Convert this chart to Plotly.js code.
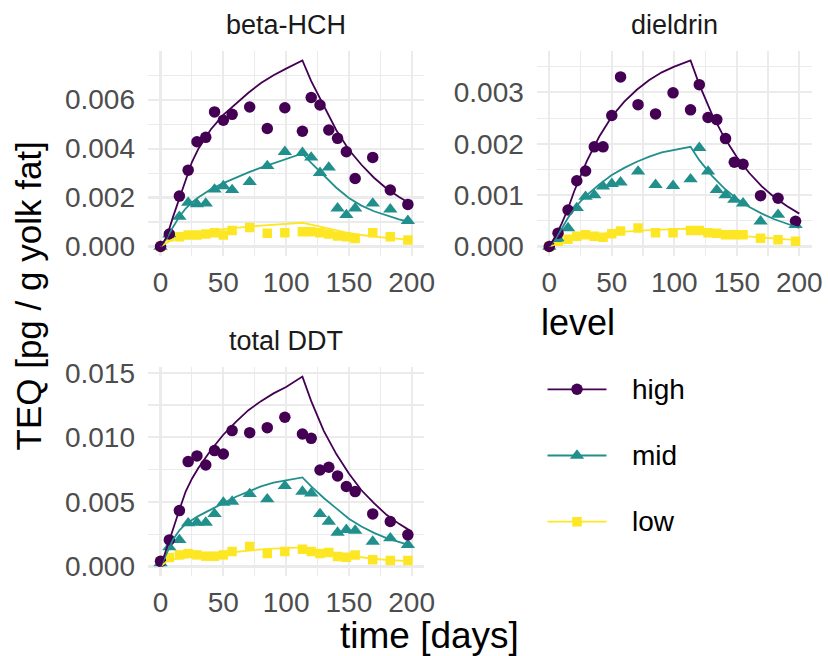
<!DOCTYPE html>
<html>
<head>
<meta charset="utf-8">
<script src="https://cdn.plot.ly/plotly-3.0.1.min.js"></script>
<style>
html,body{margin:0;padding:0;background:#fff;}
#chart{width:828px;height:656px;}
</style>
</head>
<body>
<div id="chart"></div>
<script>
// ---------------- data ----------------
const panelNames = ['beta-HCH', 'dieldrin', 'total DDT'];
const levels = ['high', 'mid', 'low'];

const pointDays = [0, 7, 15, 22, 29, 36, 43, 50, 57, 71, 85, 99, 113, 120, 127, 134, 141, 148, 155, 169, 183, 197];
const lineDays  = [0, 5, 10, 15, 20, 25, 30, 40, 50, 60, 70, 80, 90, 100, 113, 120, 130, 140, 150, 160, 170, 180, 190, 200];

// beta-HCH
const betaHigh = [0, 0.00051, 0.00206, 0.00312, 0.00428, 0.00446, 0.0055, 0.00516, 0.0054, 0.0057, 0.00482, 0.00567, 0.00471, 0.00609, 0.00578, 0.00476, 0.00442, 0.00387, 0.00278, 0.00364, 0.00231, 0.00172];
const betaMid  = [0, 0.0005, 0.00122, 0.00179, 0.00173, 0.00176, 0.00233, 0.00247, 0.00231, 0.00264, 0.00329, 0.00387, 0.00383, 0.00364, 0.00301, 0.00323, 0.00156, 0.00129, 0.00156, 0.00176, 0.00152, 0.00105];
const betaLow  = [0, 0.0004, 0.0004, 0.00047, 0.00047, 0.00051, 0.00056, 0.00047, 0.00065, 0.00078, 0.00054, 0.00056, 0.0006, 0.0006, 0.00056, 0.00051, 0.00043, 0.0004, 0.00033, 0.00056, 0.0004, 0.00027];
const betaHighLine = [0, 0.0004, 0.00122, 0.00197, 0.00276, 0.00345, 0.00398, 0.00478, 0.00538, 0.00585, 0.00628, 0.00668, 0.007, 0.00727, 0.0076, 0.00676, 0.00573, 0.00475, 0.00395, 0.00334, 0.00281, 0.00237, 0.00202, 0.00172];
const betaMidLine  = [0, 0.00035, 0.0008, 0.00122, 0.00155, 0.0018, 0.002, 0.00234, 0.00259, 0.00282, 0.00303, 0.00322, 0.0034, 0.00356, 0.0038, 0.00342, 0.0029, 0.0024, 0.00198, 0.00167, 0.00144, 0.00126, 0.00111, 0.00099];
const betaLowLine  = [0, 0.00015, 0.0003, 0.0004, 0.00047, 0.00053, 0.00058, 0.00066, 0.00072, 0.00077, 0.00081, 0.00085, 0.00089, 0.00093, 0.00097, 0.00089, 0.00077, 0.00065, 0.00055, 0.00047, 0.0004, 0.00035, 0.00031, 0.00027];

// dieldrin
const dielHigh = [0, 0.00026, 0.00071, 0.00128, 0.00147, 0.00194, 0.00194, 0.00255, 0.0033, 0.00276, 0.00258, 0.00299, 0.00266, 0.00315, 0.00251, 0.00247, 0.0021, 0.00164, 0.0016, 0.00099, 0.00094, 0.00049];
const dielMid  = [0, 0.00015, 0.00036, 0.00075, 0.00097, 0.001, 0.00117, 0.00122, 0.00125, 0.00146, 0.0012, 0.00118, 0.00131, 0.00192, 0.00146, 0.0011, 0.001, 0.00091, 0.00084, 0.00049, 0.00062, 0.00042];
const dielLow  = [0, 0.0001, 0.00014, 0.0002, 0.00023, 0.0002, 0.00018, 0.00025, 0.0003, 0.00036, 0.00027, 0.00027, 0.00031, 0.00031, 0.00027, 0.00026, 0.00023, 0.00023, 0.00023, 0.00016, 0.00013, 0.0001];
const dielHighLine = [0, 0.0002, 0.00045, 0.00074, 0.00108, 0.00138, 0.00166, 0.00214, 0.00253, 0.00282, 0.00305, 0.00324, 0.00339, 0.0035, 0.00362, 0.00315, 0.00258, 0.00212, 0.00174, 0.00143, 0.00117, 0.00096, 0.00079, 0.00064];
const dielMidLine  = [0, 0.00015, 0.00035, 0.00056, 0.00073, 0.00088, 0.001, 0.00121, 0.00139, 0.00153, 0.00165, 0.00175, 0.00183, 0.00188, 0.00194, 0.00168, 0.00138, 0.00113, 0.00093, 0.00077, 0.00064, 0.00053, 0.00044, 0.00036];
const dielLowLine  = [0, 0.00004, 0.00008, 0.00012, 0.00015, 0.00018, 0.0002, 0.00024, 0.00027, 0.00029, 0.00031, 0.00032, 0.00033, 0.00034, 0.00035, 0.00031, 0.00027, 0.00024, 0.00021, 0.00019, 0.00017, 0.00015, 0.00014, 0.00013];

// total DDT
const ddtHigh = [0.0004, 0.00206, 0.00433, 0.00812, 0.00856, 0.00786, 0.00897, 0.00871, 0.01052, 0.01036, 0.01075, 0.01155, 0.01026, 0.00992, 0.00747, 0.00768, 0.00701, 0.00619, 0.0058, 0.00407, 0.00348, 0.00245];
const ddtMid  = [0.00026, 0.0015, 0.00206, 0.00335, 0.0034, 0.0034, 0.00407, 0.00495, 0.00503, 0.00562, 0.00521, 0.00624, 0.0058, 0.00567, 0.00407, 0.00348, 0.00263, 0.00284, 0.00278, 0.00193, 0.00219, 0.00168];
const ddtLow  = [0.0004, 0.0007, 0.0009, 0.001, 0.0009, 0.0008, 0.0008, 0.0009, 0.00116, 0.00155, 0.001, 0.00116, 0.00134, 0.00116, 0.001, 0.00108, 0.00077, 0.00072, 0.0009, 0.00052, 0.00046, 0.00046];
const ddtHighLine = [0, 0.0014, 0.0029, 0.0044, 0.0058, 0.0068, 0.0076, 0.009, 0.0102, 0.0112, 0.0121, 0.0128, 0.0134, 0.0139, 0.0147, 0.0128, 0.0105, 0.0087, 0.0072, 0.0059, 0.0049, 0.004, 0.0033, 0.0027];
const ddtMidLine  = [0, 0.0011, 0.0021, 0.0028, 0.0033, 0.0036, 0.0039, 0.0044, 0.0049, 0.0054, 0.0058, 0.0062, 0.0065, 0.0067, 0.0069, 0.0062, 0.0053, 0.0045, 0.0037, 0.0031, 0.0026, 0.0022, 0.0019, 0.0016];
const ddtLowLine  = [0, 0.0004, 0.00055, 0.00063, 0.0007, 0.00076, 0.00082, 0.00093, 0.00103, 0.00112, 0.00124, 0.00132, 0.00138, 0.00142, 0.00148, 0.00135, 0.00115, 0.00097, 0.00083, 0.0007, 0.0006, 0.00052, 0.00045, 0.0004];

const yTickSteps = [0.002, 0.001, 0.005];
const xTicks = [0, 50, 100, 150, 200];

// ---------------- style ----------------
const colors = {high: '#440154', mid: '#21908C', low: '#FDE725'};
const symbols = {high: 'circle', mid: 'triangle-up', low: 'square'};
const msize = {high: 11.5, mid: 12.5, low: 9.5};
const FONT = 'Liberation Sans, Arial, Helvetica, sans-serif';
const W = 828, H = 656;

const points = [
  {high: betaHigh, mid: betaMid, low: betaLow},
  {high: dielHigh, mid: dielMid, low: dielLow},
  {high: ddtHigh, mid: ddtMid, low: ddtLow}
];
const lines = [
  {high: betaHighLine, mid: betaMidLine, low: betaLowLine},
  {high: dielHighLine, mid: dielMidLine, low: dielLowLine},
  {high: ddtHighLine, mid: ddtMidLine, low: ddtLowLine}
];

// panel boxes in pixels [left, right, top, bottom]
const boxes = [
  [148, 424.2, 51.2, 255.8],
  [536.8, 811.8, 51.2, 255.8],
  [148, 424.2, 367.1, 576.0]
];

const traces = [];
const drawOrder = ['low', 'mid', 'high'];
for (let p = 0; p < 3; p++) {
  const sx = p === 0 ? 'x' : 'x' + (p + 1);
  const sy = p === 0 ? 'y' : 'y' + (p + 1);
  drawOrder.forEach(lv => {
    traces.push({
      type: 'scatter', mode: 'markers', x: pointDays, y: points[p][lv],
      xaxis: sx, yaxis: sy, showlegend: false, hoverinfo: 'skip',
      marker: {color: colors[lv], symbol: symbols[lv], size: msize[lv], line: {width: 0}}
    });
  });
  drawOrder.forEach(lv => {
    traces.push({
      type: 'scatter', mode: 'lines', x: lineDays, y: lines[p][lv],
      xaxis: sx, yaxis: sy, showlegend: false, hoverinfo: 'skip',
      line: {color: colors[lv], width: 1.8}
    });
  });
}

// legend drawn in its own small axis pair
levels.forEach(lv => {
  traces.push({
    type: 'scatter', mode: 'lines', x: [0, 1], y: [lv, lv],
    xaxis: 'x4', yaxis: 'y4', showlegend: false, hoverinfo: 'skip',
    line: {color: colors[lv], width: 1.8}
  });
  traces.push({
    type: 'scatter', mode: 'markers', x: [0.5], y: [lv],
    xaxis: 'x4', yaxis: 'y4', showlegend: false, hoverinfo: 'skip',
    marker: {color: colors[lv], symbol: symbols[lv], size: msize[lv], line: {width: 0}}
  });
});

const layout = {
  width: W, height: H,
  margin: {l: 0, r: 0, t: 0, b: 0},
  paper_bgcolor: '#ffffff', plot_bgcolor: 'rgba(0,0,0,0)',
  showlegend: false,
  font: {family: FONT, color: '#000'},
  annotations: []
};

const gridMajor = '#EBEBEB';
for (let p = 0; p < 3; p++) {
  const b = boxes[p];
  let maxV = 0;
  levels.forEach(lv => {
    maxV = Math.max(maxV, ...points[p][lv], ...lines[p][lv]);
  });
  const step = yTickSteps[p];
  const xa = {
    domain: [b[0] / W, b[1] / W], anchor: p === 0 ? 'y' : 'y' + (p + 1),
    range: [-10, 210], tickmode: 'array', tickvals: xTicks,
    ticktext: xTicks.map(String),
    showgrid: true, gridcolor: gridMajor, gridwidth: 2.2,
    minor: {tickmode: 'linear', tick0: 0, dtick: 25, showgrid: true, gridcolor: gridMajor, gridwidth: 1.1, ticks: ''},
    zeroline: false, showline: false, ticks: '',
    tickfont: {family: FONT, size: 28, color: '#4D4D4D'},
    ticklabelstandoff: 7, fixedrange: true
  };
  const ya = {
    domain: [1 - b[3] / H, 1 - b[2] / H], anchor: p === 0 ? 'x' : 'x' + (p + 1),
    range: [-0.05 * maxV, 1.05 * maxV], tickmode: 'linear', tick0: 0, dtick: step,
    tickformat: '.3f',
    showgrid: true, gridcolor: gridMajor, gridwidth: 2.2,
    minor: {tickmode: 'linear', tick0: 0, dtick: step / 2, showgrid: true, gridcolor: gridMajor, gridwidth: 1.1, ticks: ''},
    zeroline: false, showline: false, ticks: '',
    tickfont: {family: FONT, size: 28, color: '#4D4D4D'},
    ticklabelstandoff: 12, fixedrange: true
  };
  layout[p === 0 ? 'xaxis' : 'xaxis' + (p + 1)] = xa;
  layout[p === 0 ? 'yaxis' : 'yaxis' + (p + 1)] = ya;

  layout.annotations.push({
    text: panelNames[p], xref: 'paper', yref: 'paper',
    x: ((b[0] + b[1]) / 2) / W, y: 1 - (b[2] - 26) / H,
    xanchor: 'center', yanchor: 'middle', showarrow: false,
    font: {family: FONT, size: 27, color: '#1A1A1A'}
  });
}

// legend axes
layout.xaxis4 = {domain: [547.3 / W, 606.7 / W], anchor: 'y4', range: [0, 1], visible: false, fixedrange: true};
layout.yaxis4 = {domain: [1 - 554.8 / H, 1 - 356.2 / H], anchor: 'x4', type: 'category',
  categoryorder: 'array', categoryarray: levels, range: [2.5, -0.5], visible: false, fixedrange: true};

levels.forEach(lv => {
  layout.annotations.push({
    text: lv, xref: 'paper', yref: 'y4', x: 630 / W, y: lv,
    xanchor: 'left', yanchor: 'middle', showarrow: false,
    font: {family: FONT, size: 28, color: '#000'}
  });
});
layout.annotations.push({
  text: 'level', xref: 'paper', yref: 'paper', x: 539 / W, y: 1 - 322 / H,
  xanchor: 'left', yanchor: 'middle', showarrow: false,
  font: {family: FONT, size: 36, color: '#000'}
});
layout.annotations.push({
  text: 'time [days]', xref: 'paper', yref: 'paper', x: 429.5 / W, y: 1 - 635 / H,
  xanchor: 'center', yanchor: 'middle', showarrow: false,
  font: {family: FONT, size: 37, color: '#000'}
});
layout.annotations.push({
  text: 'TEQ [pg / g yolk fat]', xref: 'paper', yref: 'paper', x: 28 / W, y: 1 - 296.5 / H,
  xanchor: 'center', yanchor: 'middle', showarrow: false, textangle: -90,
  font: {family: FONT, size: 35, color: '#000'}
});

Plotly.newPlot('chart', traces, layout, {staticPlot: true, displayModeBar: false});
</script>
</body>
</html>
